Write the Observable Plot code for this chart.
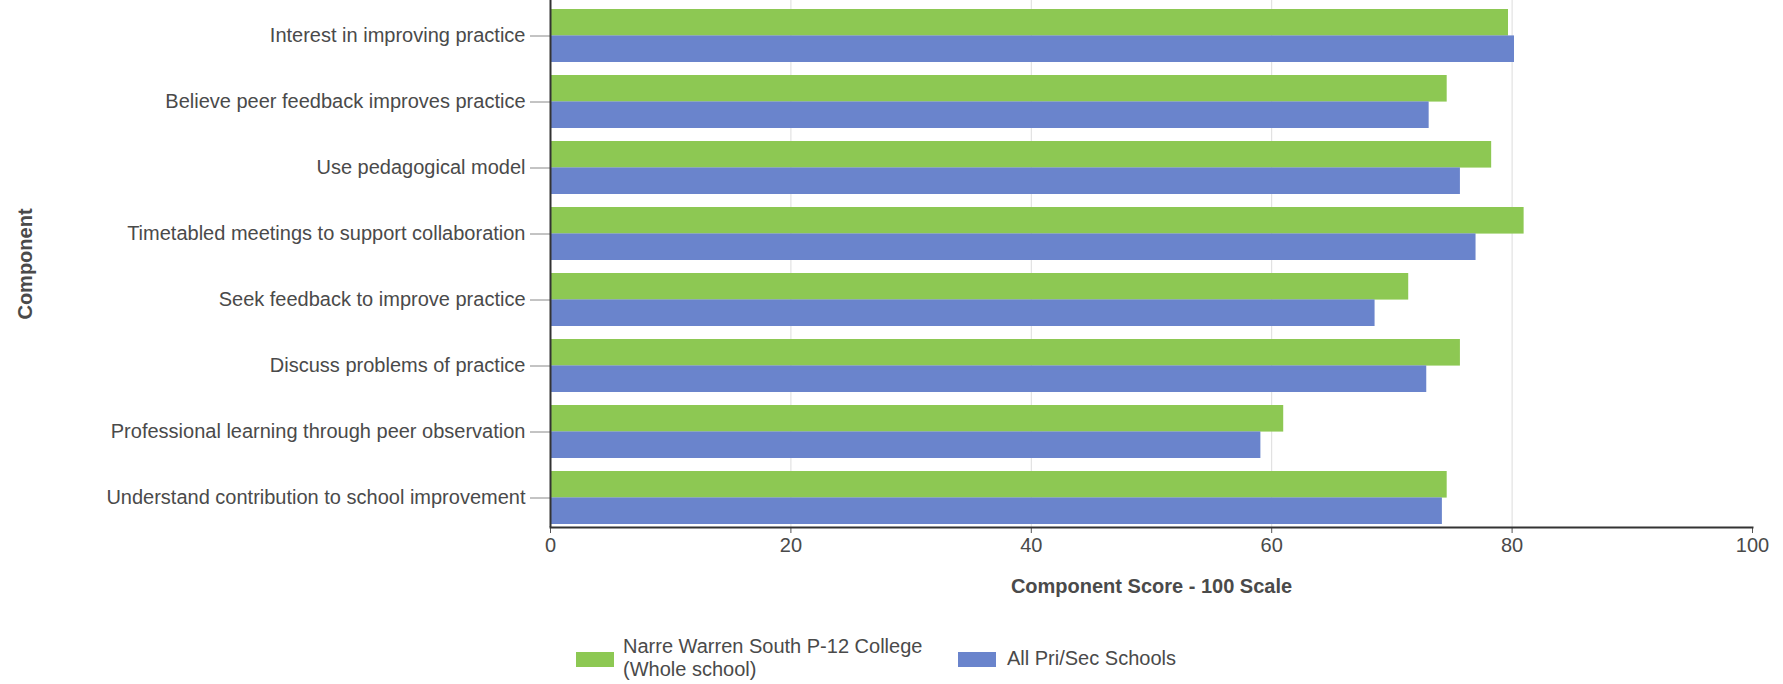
<!DOCTYPE html>
<html>
<head>
<meta charset="utf-8">
<script src="https://cdn.jsdelivr.net/npm/d3@7"></script>
<script src="https://cdn.jsdelivr.net/npm/@observablehq/plot@0.6"></script>
<style>
  html, body { margin: 0; padding: 0; background: #fff; }
  body { position: relative; width: 1783px; height: 684px; overflow: hidden;
         font-family: "Liberation Sans", Arial, sans-serif; color: #4a4a4a; }
  #legend { position: absolute; left: 0; top: 0; width: 1783px; height: 684px; pointer-events: none; }
  .sw { position: absolute; width: 38px; height: 15px; }
  .lt { position: absolute; font-size: 20px; line-height: 23px; white-space: nowrap; color: #4a4a4a; }
</style>
</head>
<body>
<div id="chart"></div>
<div id="legend"></div>
<script>
const components = [
  "Interest in improving practice",
  "Believe peer feedback improves practice",
  "Use pedagogical model",
  "Timetabled meetings to support collaboration",
  "Seek feedback to improve practice",
  "Discuss problems of practice",
  "Professional learning through peer observation",
  "Understand contribution to school improvement"
];
const schoolScores = [79.7, 74.6, 78.3, 81.0, 71.4, 75.7, 61.0, 74.6];
const allSchoolScores = [80.2, 73.1, 75.7, 77.0, 68.6, 72.9, 59.1, 74.2];
const seriesNames = ["Narre Warren South P-12 College (Whole school)", "All Pri/Sec Schools"];
const seriesColors = ["#8dc853", "#6a84cc"];
const xTicks = [0, 20, 40, 60, 80, 100];
const xTitle = "Component Score - 100 Scale";
const yTitle = "Component";

const rows = components.map((c, i) => ({component: c, school: schoolScores[i], all: allSchoolScores[i]}));

const W = 1783, H = 620, mT = 0, mB = 93, mL = 550, mR = 31;
const pInner = 0.2, pOuter = 0.09;
const step = (H - mT - mB) / (components.length - pInner + 2 * pOuter);
const half = step * (1 - pInner) / 2;

const chart = Plot.plot({
  width: W, height: H,
  marginTop: mT, marginBottom: mB, marginLeft: mL, marginRight: mR,
  style: {fontFamily: "'Liberation Sans', Arial, sans-serif", fontSize: "20px", color: "#4a4a4a", background: "#fff", overflow: "visible"},
  x: {domain: [0, 100]},
  y: {domain: components, paddingInner: pInner, paddingOuter: pOuter, align: 0.75},
  marks: [
    Plot.gridX(xTicks.slice(1, -1), {stroke: "#dcdcdc", strokeOpacity: 1}),
    Plot.barX(rows, {x: "school", y: "component", fill: seriesColors[0], insetBottom: half}),
    Plot.barX(rows, {x: "all", y: "component", fill: seriesColors[1], insetTop: half}),
    Plot.axisY({tickSize: 20, tickPadding: 5, label: null, stroke: "#888"}),
    Plot.axisX({ticks: xTicks, tickSize: 6, tickPadding: 4, label: null, stroke: "#555"}),
    Plot.ruleX([0], {stroke: "#333", strokeWidth: 2}),
    Plot.frame({anchor: "bottom", stroke: "#333", strokeWidth: 2}),
    Plot.text([yTitle], {text: d => d, frameAnchor: "left", textAnchor: "middle", lineAnchor: "middle", dx: -525, rotate: -90, fontWeight: "bold", fontSize: 20, fill: "#4a4a4a"}),
    Plot.text([xTitle], {text: d => d, frameAnchor: "bottom", textAnchor: "middle", lineAnchor: "middle", dy: 59, fontWeight: "bold", fontSize: 20, fill: "#4a4a4a"})
  ]
});
document.getElementById("chart").appendChild(chart);

// Legend
const legend = document.getElementById("legend");
const legendItems = [
  {name: seriesNames[0], color: seriesColors[0], sx: 576, tx: 623, ty: 635, lines: ["Narre Warren South P-12 College", "(Whole school)"]},
  {name: seriesNames[1], color: seriesColors[1], sx: 958, tx: 1007, ty: 647, lines: ["All Pri/Sec Schools"]}
];
for (const it of legendItems) {
  const sw = document.createElement("div");
  sw.className = "sw";
  sw.style.left = it.sx + "px"; sw.style.top = "652px"; sw.style.background = it.color;
  legend.appendChild(sw);
  const t = document.createElement("div");
  t.className = "lt";
  t.style.left = it.tx + "px"; t.style.top = it.ty + "px";
  t.innerHTML = it.lines.join("<br>");
  legend.appendChild(t);
}
</script>
</body>
</html>
